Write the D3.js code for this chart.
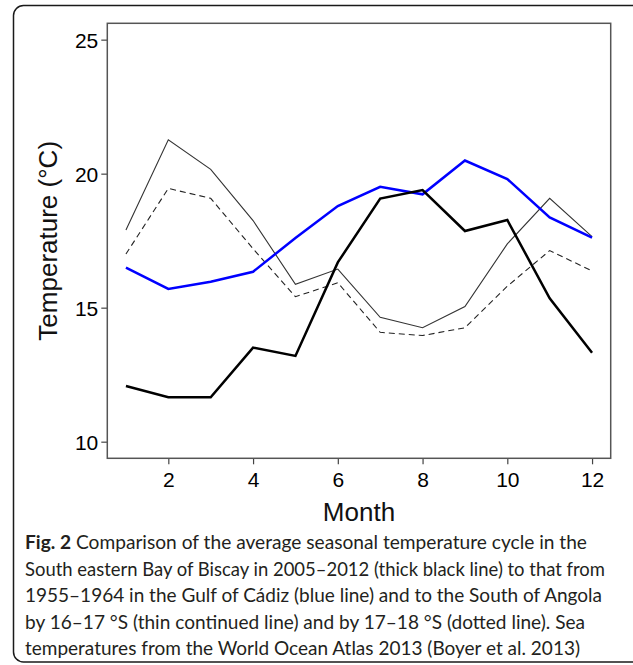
<!DOCTYPE html>
<html>
<head>
<meta charset="utf-8">
<script src="https://cdn.jsdelivr.net/npm/d3@7"></script>
<style>
  body { margin: 0; background: #fff; }
  svg { display: block; }
</style>
</head>
<body>
<svg width="633" height="665"></svg>
<script>
// monthly mean sea temperatures (°C)
const months = [1, 2, 3, 4, 5, 6, 7, 8, 9, 10, 11, 12];
const biscay = [12.08, 11.66, 11.66, 13.51, 13.20, 16.69, 19.07, 19.39, 17.86, 18.27, 15.35, 13.32];
const cadiz = [16.49, 15.70, 15.97, 16.34, 17.60, 18.79, 19.51, 19.23, 20.49, 19.80, 18.37, 17.61];
const angola1617 = [17.90, 21.26, 20.16, 18.25, 15.87, 16.44, 14.64, 14.25, 15.04, 17.38, 19.08, 17.65];
const angola1718 = [17.00, 19.45, 19.08, 17.20, 15.41, 15.93, 14.08, 13.96, 14.25, 15.80, 17.13, 16.37];
const xTicks = [2, 4, 6, 8, 10, 12];
const yTicks = [10, 15, 20, 25];

const captionLines = [
    ['Fig. 2', ' Comparison of the average seasonal temperature cycle in the'],
    ['', 'South eastern Bay of Biscay in 2005\u20132012 (thick black line) to that from'],
    ['', '1955\u20131964 in the Gulf of C\u00e1diz (blue line) and to the South of Angola'],
    ['', 'by 16\u201317 \u00b0S (thin continued line) and by 17\u201318 \u00b0S (dotted line). Sea'],
    ['', 'temperatures from the World Ocean Atlas 2013 (Boyer et al. 2013)']
];

const svg = d3.select('svg');
const plotLeft = 107.3, plotRight = 610.7, plotTop = 23.3, plotBottom = 458.3;

const x = d3.scaleLinear().domain([0.56, 12.44]).range([plotLeft, plotRight]);
const y = d3.scaleLinear().domain([9.38, 25.61]).range([plotBottom, plotTop]);

// outer rounded frame of the figure
svg.append('rect')
    .attr('x', 13.5).attr('y', 5.5)
    .attr('width', 640).attr('height', 656.5)
    .attr('rx', 10)
    .attr('fill', 'none')
    .attr('stroke', '#1a1a1a')
    .attr('stroke-width', 1.5);

const chartFont = "'Liberation Sans', Arial, sans-serif";

// axes
const yAxis = svg.append('g')
    .attr('transform', `translate(${plotLeft},0)`)
    .call(d3.axisLeft(y).tickValues(yTicks).tickSize(6).tickPadding(3));
const xAxis = svg.append('g')
    .attr('transform', `translate(0,${plotBottom})`)
    .call(d3.axisBottom(x).tickValues(xTicks).tickSize(6).tickPadding(8));

[yAxis, xAxis].forEach(g => {
    g.select('.domain').remove();
    g.selectAll('line').attr('stroke', '#444').attr('stroke-width', 1.2);
    g.selectAll('text')
        .attr('fill', '#000')
        .style('font-family', chartFont)
        .style('font-size', '21px');
});
yAxis.selectAll('text').attr('dy', '0.36em');

// plot box
svg.append('rect')
    .attr('x', plotLeft).attr('y', plotTop)
    .attr('width', plotRight - plotLeft).attr('height', plotBottom - plotTop)
    .attr('fill', 'none')
    .attr('stroke', '#555')
    .attr('stroke-width', 1.5);

// series
const line = d3.line()
    .x((d, i) => x(months[i]))
    .y(d => y(d));

const series = [
    { values: angola1718, color: '#222', width: 1.1, dash: '6,4' },
    { values: angola1617, color: '#333', width: 1.1, dash: null },
    { values: cadiz, color: '#0000ff', width: 2.5, dash: null },
    { values: biscay, color: '#000', width: 2.5, dash: null }
];

series.forEach(s => {
    svg.append('path')
        .datum(s.values)
        .attr('d', line)
        .attr('fill', 'none')
        .attr('stroke', s.color)
        .attr('stroke-width', s.width)
        .attr('stroke-linejoin', 'miter')
        .attr('stroke-dasharray', s.dash);
});

// axis titles
svg.append('text')
    .attr('x', (plotLeft + plotRight) / 2)
    .attr('y', 521)
    .attr('text-anchor', 'middle')
    .style('font-family', chartFont)
    .style('font-size', '26px')
    .attr('fill', '#111')
    .text('Month');

svg.append('text')
    .attr('transform', `translate(56.5,${(plotTop + plotBottom) / 2}) rotate(-90)`)
    .attr('text-anchor', 'middle')
    .style('font-family', chartFont)
    .style('font-size', '26px')
    .attr('fill', '#111')
    .text('Temperature (\u00b0C)');

// caption
const captionWidths = [562, 580, 577, 560, 555];
captionLines.forEach((parts, i) => {
    const t = svg.append('text')
        .attr('x', 25)
        .attr('y', 549 + i * 26.6)
        .attr('textLength', captionWidths[i])
        .attr('lengthAdjust', 'spacingAndGlyphs')
        .style('font-family', "Lato, 'Open Sans', sans-serif")
        .style('font-size', '19px')
        .attr('fill', '#231f20');
    if (parts[0]) {
        t.append('tspan').style('font-weight', 'bold').text(parts[0]);
    }
    t.append('tspan').text(parts[1]);
});
</script>
</body>
</html>
